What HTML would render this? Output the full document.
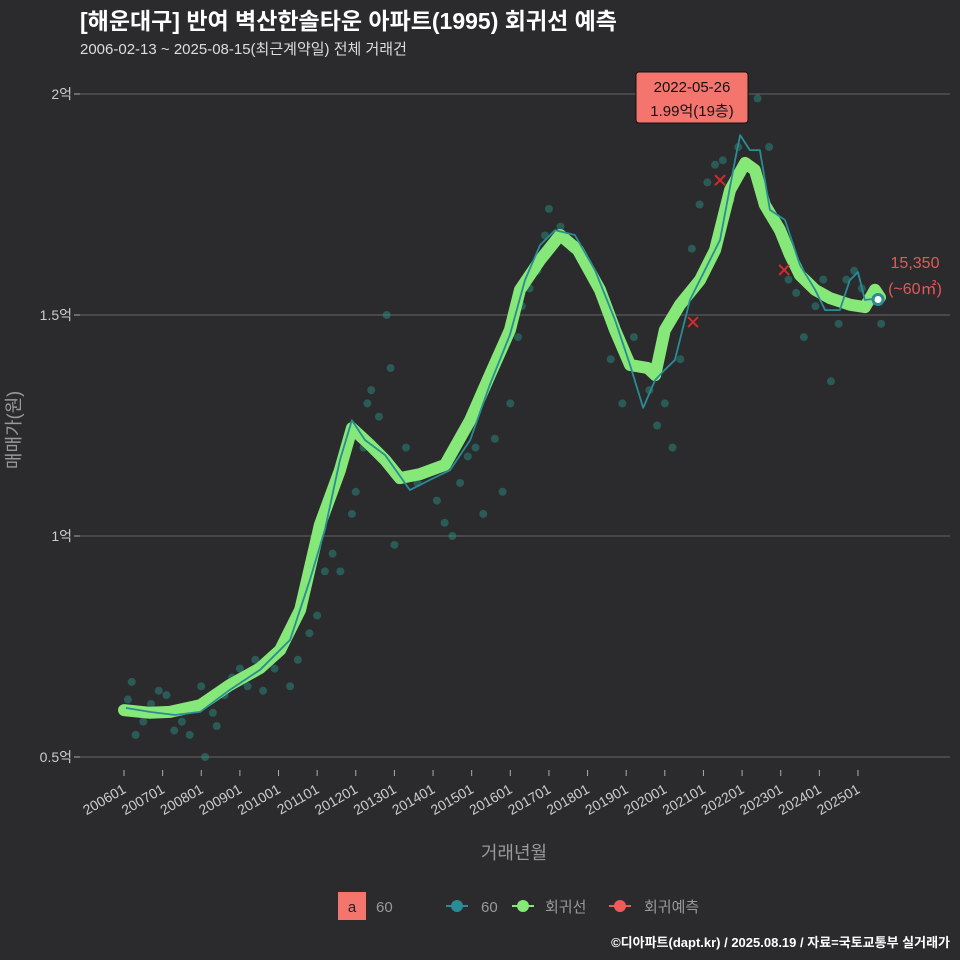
<!DOCTYPE html>
<html><head><meta charset="utf-8">
<style>
html,body{margin:0;padding:0;background:#2b2b2d;}
svg{display:block;font-family:"Liberation Sans","Noto Sans CJK KR",sans-serif;}
</style></head>
<body>
<svg id="chart" width="960" height="960" viewBox="0 0 960 960">
<rect width="960" height="960" fill="#2b2b2d"/>
<text x="80" y="29" fill="#ffffff" font-size="23" font-weight="bold">[해운대구] 반여 벽산한솔타운 아파트(1995) 회귀선 예측</text>
<text x="80" y="54" fill="#dddddd" font-size="15">2006-02-13 ~ 2025-08-15(최근계약일) 전체 거래건</text>
<g id="grid"></g><g id="scatter"></g><g id="lines"></g><g id="marks"></g><g id="axes"></g>
<text x="20" y="430" fill="#999" font-size="18" transform="rotate(-90 20 430)" text-anchor="middle">매매가(원)</text>
<text x="514" y="859" fill="#999" font-size="18" text-anchor="middle">거래년월</text>
<g>
<rect x="338" y="892" width="28" height="28" fill="#f4756e"/>
<text x="352" y="912" fill="#222" font-size="15" text-anchor="middle">a</text>
<text x="376" y="912" fill="#999" font-size="15">60</text>
<g><line x1="446" y1="906" x2="468" y2="906" stroke="#2a8c94" stroke-width="2"/><circle cx="457" cy="906" r="6" fill="#2a8c94"/><text x="481" y="912" fill="#999" font-size="15">60</text></g>
<g><line x1="512" y1="906" x2="534" y2="906" stroke="#86e879" stroke-width="2"/><circle cx="523" cy="906" r="6" fill="#86e879"/><text x="545" y="912" fill="#999" font-size="15">회귀선</text></g>
<g><line x1="609" y1="906" x2="631" y2="906" stroke="#f05a5a" stroke-width="2"/><circle cx="620" cy="906" r="6" fill="#f05a5a"/><text x="644" y="912" fill="#999" font-size="15">회귀예측</text></g>
</g>
<text x="950" y="947" fill="#ffffff" font-size="13" font-weight="bold" text-anchor="end">©디아파트(dapt.kr) / 2025.08.19 / 자료=국토교통부 실거래가</text>
</svg>
<script>
const yTicks=[0.5,1,1.5,2];
const yTickLabels=["0.5억","1억","1.5억","2억"];
const xTickYears=[2006,2007,2008,2009,2010,2011,2012,2013,2014,2015,2016,2017,2018,2019,2020,2021,2022,2023,2024,2025];
const xTickLabels=["200601","200701","200801","200901","201001","201101","201201","201301","201401","201501","201601","201701","201801","201901","202001","202101","202201","202301","202401","202501"];
const regYears=[2006.0,2006.67,2007.19,2007.97,2008.74,2009.52,2010.04,2010.56,2011.07,2011.59,2011.9,2012.37,2012.76,2013.14,2013.66,2014.31,2014.96,2015.47,2015.99,2016.25,2016.77,2017.29,2017.75,2018.32,2018.71,2019.1,2019.56,2019.75,2020.0,2020.39,2020.91,2021.3,2021.69,2022.08,2022.33,2022.59,2022.98,2023.24,2023.5,2023.89,2024.28,2024.8,2025.18,2025.44,2025.57];
const regValues=[0.606,0.6,0.602,0.617,0.663,0.701,0.742,0.833,1.025,1.149,1.244,1.206,1.172,1.131,1.14,1.161,1.262,1.364,1.466,1.557,1.624,1.681,1.647,1.557,1.466,1.387,1.38,1.364,1.466,1.523,1.579,1.647,1.783,1.844,1.828,1.749,1.692,1.636,1.59,1.557,1.538,1.523,1.518,1.557,1.54];
const avgYears=[2006.05,2006.67,2007.32,2007.97,2008.74,2009.52,2010.3,2010.81,2011.2,2011.59,2011.9,2012.24,2012.76,2013.4,2013.92,2014.44,2014.96,2015.47,2015.99,2016.38,2016.77,2017.16,2017.67,2018.19,2018.71,2019.1,2019.44,2019.75,2020.0,2020.26,2020.65,2021.04,2021.43,2021.82,2021.95,2022.2,2022.46,2022.72,2023.11,2023.5,2023.89,2024.15,2024.53,2024.79,2025.0,2025.18,2025.52];
const avgValues=[0.611,0.602,0.595,0.602,0.652,0.697,0.765,0.9,1.014,1.172,1.262,1.217,1.183,1.104,1.127,1.149,1.217,1.342,1.455,1.579,1.658,1.692,1.681,1.602,1.489,1.387,1.29,1.353,1.376,1.398,1.534,1.602,1.67,1.851,1.907,1.873,1.873,1.738,1.715,1.613,1.557,1.511,1.511,1.579,1.597,1.534,1.538];
const dealYears=[2006.1,2006.2,2006.3,2006.5,2006.7,2006.9,2007.1,2007.3,2007.5,2007.7,2007.9,2008.0,2008.1,2008.3,2008.4,2008.6,2008.8,2009.0,2009.2,2009.4,2009.6,2009.9,2010.1,2010.3,2010.5,2010.8,2011.0,2011.2,2011.4,2011.6,2011.9,2012.0,2012.2,2012.3,2012.4,2012.6,2012.8,2012.9,2013.0,2013.3,2013.6,2013.9,2014.1,2014.3,2014.5,2014.7,2014.9,2015.1,2015.3,2015.6,2015.8,2016.0,2016.2,2016.3,2016.5,2016.7,2016.9,2017.0,2017.3,2017.6,2017.9,2018.3,2018.6,2018.9,2019.2,2019.6,2019.8,2020.0,2020.2,2020.4,2020.6,2020.7,2020.9,2021.1,2021.3,2021.5,2021.7,2021.9,2022.0,2022.4,2022.7,2023.0,2023.2,2023.4,2023.6,2023.9,2024.1,2024.3,2024.5,2024.7,2024.9,2025.1,2025.6];
const dealValues=[0.63,0.67,0.55,0.58,0.62,0.65,0.64,0.56,0.58,0.55,0.62,0.66,0.5,0.6,0.57,0.64,0.68,0.7,0.66,0.72,0.65,0.7,0.74,0.66,0.72,0.78,0.82,0.92,0.96,0.92,1.05,1.1,1.2,1.3,1.33,1.27,1.5,1.38,0.98,1.2,1.12,1.15,1.08,1.03,1.0,1.12,1.18,1.2,1.05,1.22,1.1,1.3,1.45,1.52,1.56,1.6,1.68,1.74,1.7,1.65,1.62,1.55,1.4,1.3,1.45,1.33,1.25,1.3,1.2,1.4,1.55,1.65,1.75,1.8,1.84,1.85,1.76,1.88,1.82,1.99,1.88,1.7,1.58,1.55,1.45,1.52,1.58,1.35,1.48,1.58,1.6,1.56,1.48];
const predYears=[2020.73,2021.43,2023.09];
const predValues=[1.484,1.805,1.602];
const lastYear=2025.52, lastValue=1.535;

const NS="http://www.w3.org/2000/svg";
const X=t=>124+(t-2006)*38.63;
const Y=v=>757-(v-0.5)*442;
function mk(tag,attrs,parent){const e=document.createElementNS(NS,tag);for(const k in attrs)e.setAttribute(k,attrs[k]);parent.appendChild(e);return e;}
const grid=document.getElementById('grid'),axes=document.getElementById('axes');
yTicks.forEach((v,i)=>{
  const l=mk('line',{x1:80,x2:950,y1:Y(v),y2:Y(v),stroke:'#5a5a5c','stroke-width':1.2},grid);
  
  
  mk('line',{x1:74,x2:80,y1:Y(v),y2:Y(v),stroke:'#aaa'},axes);
  const t=mk('text',{x:72,y:Y(v)+5,fill:'#cccccc','font-size':14,'text-anchor':'end'},axes);
  t.textContent=yTickLabels[i];
  
  
});
xTickYears.forEach((yr,i)=>{
  const x=X(yr);
  mk('line',{x1:x,x2:x,y1:757+13,y2:757+19,stroke:'#aaa'},axes);
  const t=mk('text',{x:x+3,y:792,fill:'#cccccc','font-size':14,'text-anchor':'end',transform:`rotate(-30 ${x+3} 792)`},axes);
  t.textContent=xTickLabels[i];
  
  
});
const sc=document.getElementById('scatter');
dealYears.forEach((t,i)=>{
  const c=mk('circle',{cx:X(t),cy:Y(dealValues[i]),r:4,fill:'#2a8c80','fill-opacity':0.5},sc);
  
  
});
const ln=document.getElementById('lines');
const reg=mk('polyline',{points:regYears.map((t,i)=>X(t)+','+Y(regValues[i])).join(' '),fill:'none',stroke:'#86e879','stroke-width':12,'stroke-linejoin':'round','stroke-linecap':'round'},ln);


const avg=mk('polyline',{points:avgYears.map((t,i)=>X(t)+','+Y(avgValues[i])).join(' '),fill:'none',stroke:'#2a8c94','stroke-width':1.8,'stroke-linejoin':'round'},ln);


const mg=document.getElementById('marks');
predYears.forEach((t,i)=>{
  const x=X(t),y=Y(predValues[i]);
  const p=mk('path',{d:`M${x-5},${y-5}L${x+5},${y+5}M${x-5},${y+5}L${x+5},${y-5}`,stroke:'#d42a2a','stroke-width':2},mg);
  
  
});
const lp=mk('circle',{cx:X(lastYear),cy:Y(lastValue),r:5,fill:'#ffffff',stroke:'#2a8c94','stroke-width':3},mg);


const l1=mk('text',{x:915,y:268,fill:'#e05a5a','font-size':16,'text-anchor':'middle'},mg);l1.textContent='15,350';


const l2=mk('text',{x:915,y:294,fill:'#e05a5a','font-size':16,'text-anchor':'middle'},mg);l2.textContent='(~60㎡)';


const box=mk('rect',{x:636,y:72,width:112,height:51,rx:3,fill:'#f4756e',stroke:'#111','stroke-width':1},mg);


const b1=mk('text',{x:692,y:92,fill:'#111','font-size':15,'text-anchor':'middle'},mg);b1.textContent='2022-05-26';
const b2=mk('text',{x:692,y:116,fill:'#111','font-size':15,'text-anchor':'middle'},mg);b2.textContent='1.99억(19층)';
</script>
</body></html>
